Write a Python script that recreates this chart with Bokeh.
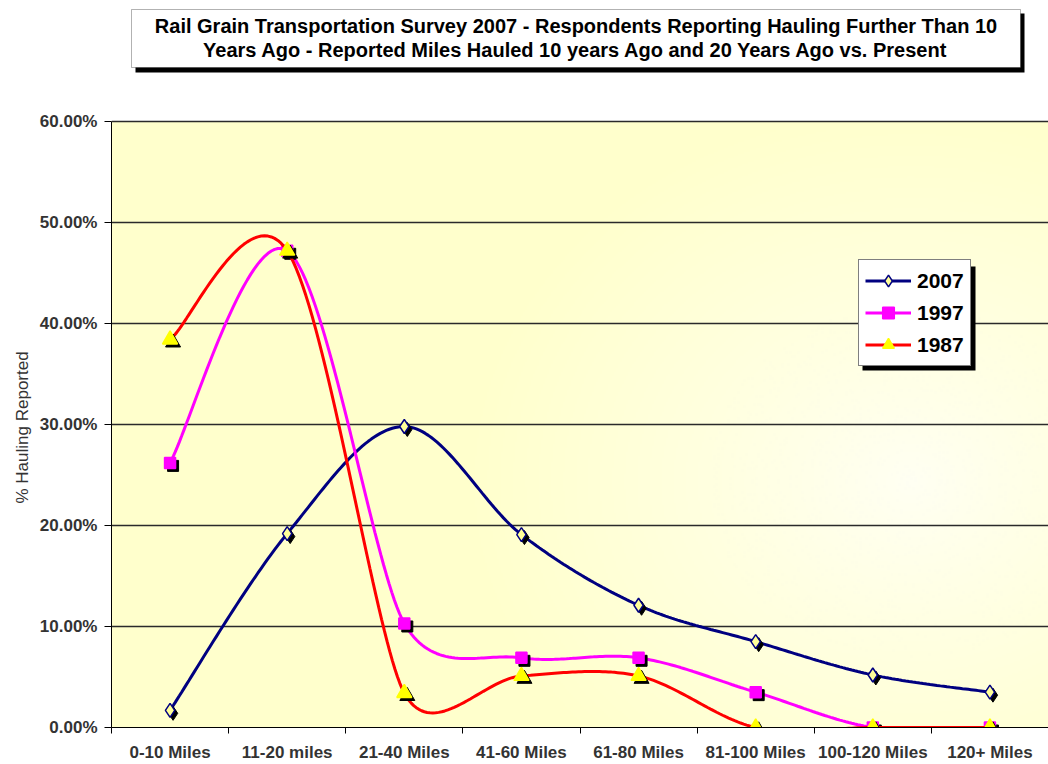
import numpy as np
from bokeh.plotting import figure
from bokeh.models import (Range1d, FixedTicker, Legend, LegendItem, BoxAnnotation,
                          Label, PrintfTickFormatter, ColumnDataSource, Title)
from bokeh.transform import dodge
from bokeh.embed import file_html
from bokeh.resources import INLINE

# ---------------- data ----------------
categories = ["0-10 Miles", "11-20 miles", "21-40 Miles", "41-60 Miles",
              "61-80 Miles", "81-100 Miles", "100-120 Miles", "120+ Miles"]
pct_2007 = [1.7, 19.2, 29.8, 19.1, 12.1, 8.5, 5.2, 3.5]
pct_1997 = [26.2, 47.2, 10.3, 6.9, 6.9, 3.5, 0.0, 0.0]
pct_1987 = [38.4, 47.2, 3.4, 5.1, 5.1, 0.0, 0.0, 0.0]
y_ticks = [0, 10, 20, 30, 40, 50, 60]
title_lines = ["Rail Grain Transportation Survey 2007 - Respondents Reporting Hauling Further Than 10",
               "Years Ago - Reported Miles Hauled 10 years Ago and 20 Years Ago vs. Present"]
y_label = "% Hauling Reported"

# ---------------- layout constants ----------------
FW = 937                    # frame width in px
PLOT_H = 606                # height of the 0..60% plot area in px
FRAME_H = 727               # frame extends up to the top of the page (title lives inside)
SX, SY = FW / 8.0, PLOT_H / 60.0
Y_END = FRAME_H / SY
FONT = "Liberation Sans"

xc = np.arange(len(categories)) + 0.5


def excel_smooth(xs, ys, n=40):
    """Excel-like smoothed line (Bezier with 1/6 tension, clamped), computed in pixel space."""
    P = np.column_stack([np.asarray(xs) * SX, np.asarray(ys) * SY])
    m = len(P)

    def tangent(a, b, c):
        v = c - a
        d02 = np.hypot(*v)
        if d02 == 0:
            return v * 0
        f = 1.0 / 6.0
        lims = [np.hypot(*(b - a)) / 2, np.hypot(*(c - b)) / 2]
        lims = [l for l in lims if l > 0]
        lim = min(lims)
        if d02 * f > lim:
            f = lim / d02
        return v * f

    out_x, out_y = [], []
    t = np.linspace(0, 1, n)[:, None]
    for i in range(m - 1):
        p0 = P[i - 1] if i > 0 else P[i]
        p1, p2 = P[i], P[i + 1]
        p3 = P[i + 2] if i + 2 < m else P[i + 1]
        c1 = p1 + tangent(p0, p1, p2)
        c2 = p2 - tangent(p1, p2, p3)
        B = ((1 - t) ** 3) * p1 + 3 * ((1 - t) ** 2) * t * c1 + 3 * (1 - t) * t ** 2 * c2 + t ** 3 * p2
        if i > 0:
            B = B[1:]
        out_x.extend(B[:, 0] / SX)
        out_y.extend(B[:, 1] / SY)
    return out_x, out_y


p = figure(width=1048, height=764, x_range=Range1d(0, 8), y_range=Range1d(0, Y_END),
           output_backend="svg", toolbar_location=None,
           min_border_left=111, min_border_right=0, min_border_top=0, min_border_bottom=37)
p.outline_line_color = None
p.background_fill_color = "white"
p.border_fill_color = "white"

# ---------------- background gradient (plot area only) ----------------
H, W = 303, 470
jj, ii = np.mgrid[0:H, 0:W]
Xp = (ii + 0.5) / W * FW
Ytop = (1 - (jj + 0.5) / H) * PLOT_H
dx = (Xp - 800) / 450.0
dy = (Ytop - 360) / 380.0
tt = np.clip(np.sqrt(dx ** 2 + dy ** 2), 0, 1) ** 0.9
center = np.array([255, 255, 243])
edge = np.array([255, 255, 204])
rgb = center[None, None, :] * (1 - tt[..., None]) + edge[None, None, :] * tt[..., None]
img = np.empty((H, W), dtype=np.uint32)
view = img.view(dtype=np.uint8).reshape((H, W, 4))
view[..., 0:3] = rgb.astype(np.uint8)
view[..., 3] = 255
p.image_rgba(image=[img], x=0, y=0, dw=8, dh=60, level="image")

# ---------------- grid / axes ----------------
p.xgrid.visible = False
p.ygrid.ticker = FixedTicker(ticks=y_ticks)
p.ygrid.bounds = (0, 60)
p.ygrid.grid_line_color = "#2a2a2a"
p.ygrid.grid_line_width = 1.3

p.yaxis.bounds = (0, 60)
p.yaxis.ticker = FixedTicker(ticks=y_ticks)
p.yaxis.formatter = PrintfTickFormatter(format="%.2f%%")
p.yaxis.axis_line_color = "black"
p.yaxis.major_tick_line_color = "black"
p.yaxis.major_tick_out = 7
p.yaxis.major_tick_in = 0
p.yaxis.minor_tick_line_color = None
p.yaxis.major_label_text_font = FONT
p.yaxis.major_label_text_font_style = "bold"
p.yaxis.major_label_text_font_size = "17px"
p.yaxis.major_label_text_color = "#333333"
p.yaxis.major_label_standoff = 7

# y-axis title placed as a side title so it can be centred on the 0-60% span
p.add_layout(Title(text=y_label, align="left", offset=224, standoff=10,
                   text_font=FONT, text_font_style="normal", text_font_size="17px",
                   text_color="#333333"), "left")

p.xaxis.ticker = FixedTicker(ticks=list(xc), minor_ticks=list(range(0, 9)))
p.xaxis.major_label_overrides = {float(x): c for x, c in zip(xc, categories)}
p.xaxis.axis_line_color = "black"
p.xaxis.major_tick_line_color = None
p.xaxis.major_tick_out = 0
p.xaxis.major_tick_in = 0
p.xaxis.minor_tick_line_color = "black"
p.xaxis.minor_tick_out = 6
p.xaxis.minor_tick_in = 0
p.xaxis.major_label_text_font = FONT
p.xaxis.major_label_text_font_style = "bold"
p.xaxis.major_label_text_font_size = "17px"
p.xaxis.major_label_text_color = "#333333"
p.xaxis.major_label_standoff = 9

# ---------------- series ----------------
series = [
    ("2007", pct_2007, "#000080", "diamond", "#FFFF99", "#000080", 14),
    ("1997", pct_1997, "#FF00FF", "square", "#FF00FF", "#FF00FF", 11),
    ("1987", pct_1987, "#FF0000", "triangle", "#FFFF00", "#FFFF00", 15),
]
items = []
shadow_dx = 3.0 / SX
shadow_dy = -3.0 / SY
for name, vals, lc, marker, mfill, mline, msize in series:
    sx, sy = excel_smooth(xc, vals)
    lr = p.line(sx, sy, line_color=lc, line_width=3)
    src = ColumnDataSource(dict(x=list(xc), y=list(vals)))
    p.scatter(x=dodge("x", shadow_dx, range=p.x_range), y=dodge("y", shadow_dy, range=p.y_range),
              source=src, marker=marker, size=msize, fill_color="black", line_color="black")
    sr = p.scatter(x="x", y="y", source=src, marker=marker, size=msize,
                   fill_color=mfill, line_color=mline, line_width=1.5)
    items.append(LegendItem(label=name, renderers=[lr, sr]))

# ---------------- legend with shadow ----------------
LX, LY, LW, LH = 747, 361, 113, 104
p.add_layout(BoxAnnotation(left=LX + 4, right=LX + LW + 4, bottom=LY - 4, top=LY + LH - 4,
                           left_units="screen", right_units="screen",
                           bottom_units="screen", top_units="screen",
                           fill_color="black", fill_alpha=1, line_color=None))
legend = Legend(items=items, location=(LX, LY), border_line_color="black", border_line_width=1,
                background_fill_color="white", background_fill_alpha=1,
                label_text_font=FONT, label_text_font_size="21px", label_text_font_style="bold",
                label_text_color="black",
                glyph_width=46, glyph_height=29, label_height=29, spacing=3, padding=6,
                margin=0, label_standoff=6)
p.add_layout(legend)

# ---------------- title box with shadow ----------------
TL, TR, TT, TB = 20, 909, 718, 660
p.add_layout(BoxAnnotation(left=TL + 4, right=TR + 4, top=TT - 4, bottom=TB - 5,
                           left_units="screen", right_units="screen",
                           bottom_units="screen", top_units="screen",
                           fill_color="black", fill_alpha=1, line_color=None))
p.add_layout(BoxAnnotation(left=TL, right=TR, top=TT, bottom=TB,
                           left_units="screen", right_units="screen",
                           bottom_units="screen", top_units="screen",
                           fill_color="white", fill_alpha=1, line_color="black", line_width=1))
for k, line in enumerate(title_lines):
    p.add_layout(Label(x=(TL + TR) / 2, y=702 - 24 * k, x_units="screen", y_units="screen",
                       text=line, text_align="center", text_baseline="middle",
                       text_font=FONT, text_font_size="20px", text_font_style="bold",
                       text_color="black"))

open("out.html", "w").write(file_html(p, INLINE))
